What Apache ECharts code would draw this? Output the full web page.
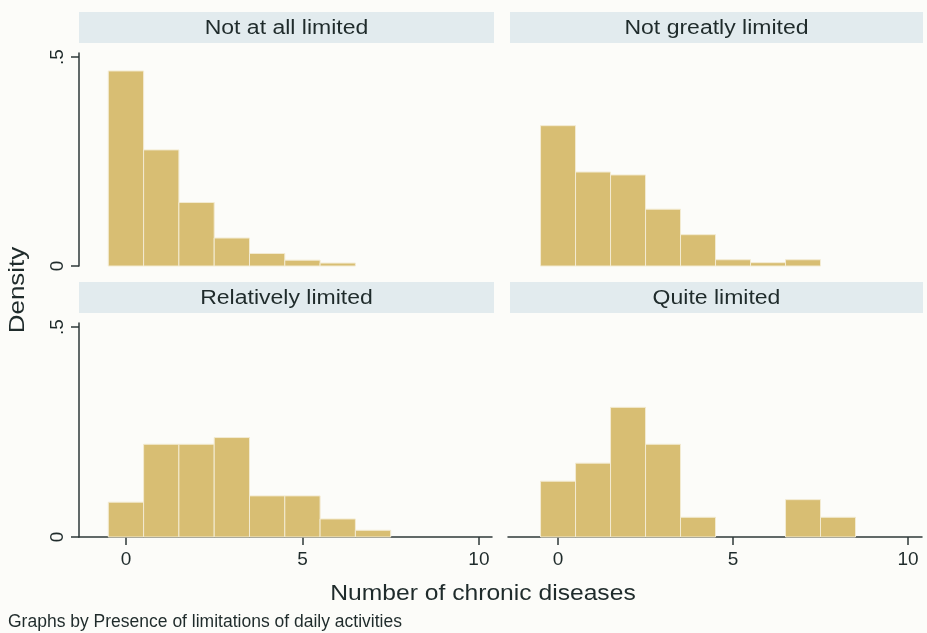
<!DOCTYPE html>
<html>
<head>
<meta charset="utf-8">
<script src="https://cdn.jsdelivr.net/npm/echarts@6/dist/echarts.min.js"></script>
<style>
  html, body { margin: 0; padding: 0; background: #fcfcf9; }
  #chart { width: 927px; height: 633px; }
</style>
</head>
<body>
<div id="chart"></div>
<script>
// Histogram of chronic disease counts, one panel per limitation group
const panelTitles = ['Not at all limited', 'Not greatly limited', 'Relatively limited', 'Quite limited'];
const xTickValues = [0, 5, 10];
const yTickValues = [0, 0.5];

// density per number of chronic diseases (bins of width 1 centred on 0, 1, 2, ...)
const densNotAtAll   = [0.467, 0.278, 0.152, 0.067, 0.030, 0.014, 0.007];
const densNotGreatly = [0.336, 0.225, 0.218, 0.136, 0.075, 0.015, 0.008, 0.015];
const densRelatively = [0.083, 0.221, 0.221, 0.237, 0.098, 0.098, 0.043, 0.016];
const densQuite      = [0.133, 0.176, 0.309, 0.221, 0.047, 0, 0, 0.089, 0.047];

const panelData = [densNotAtAll, densNotGreatly, densRelatively, densQuite];

const barColor = '#d8be73';
const axisColor = '#2e3838';
const textColor = '#1f2b2b';
const stripColor = '#e2ebee';
const fontFamily = '"Liberation Sans", Arial, sans-serif';

const grids = [
  { left: 79,  width: 413, top: 53,  height: 213 },
  { left: 508, width: 414, top: 53,  height: 213 },
  { left: 79,  width: 413, top: 323, height: 214 },
  { left: 508, width: 414, top: 323, height: 214 }
];
const xRanges = [[-1.33, 10.37], [-1.43, 10.4], [-1.33, 10.37], [-1.43, 10.4]];

function renderBin(params, api) {
  const x = api.value(0);
  const y = api.value(1);
  if (!y) return null;
  const topLeft = api.coord([x - 0.5, y]);
  const bottomRight = api.coord([x + 0.5, 0]);
  return {
    type: 'rect',
    shape: {
      x: topLeft[0],
      y: topLeft[1],
      width: bottomRight[0] - topLeft[0],
      height: bottomRight[1] - topLeft[1]
    },
    style: { fill: barColor, stroke: '#f3ebd2', lineWidth: 1 }
  };
}

const xAxes = grids.map((g, i) => {
  const showAxis = i >= 2;
  return {
    type: 'value',
    gridIndex: i,
    min: xRanges[i][0],
    max: xRanges[i][1],
    show: showAxis,
    splitLine: { show: false },
    axisLine: { show: showAxis, onZero: false, lineStyle: { color: axisColor, width: 1.5 } },
    axisTick: { show: showAxis, customValues: xTickValues, length: 8, lineStyle: { color: axisColor, width: 1.5 } },
    axisLabel: {
      show: showAxis,
      customValues: xTickValues,
      margin: 13,
      fontSize: 19,
      color: textColor,
      fontFamily: fontFamily
    }
  };
});

const yAxes = grids.map((g, i) => {
  const showAxis = i % 2 === 0;
  return {
    type: 'value',
    gridIndex: i,
    min: 0,
    max: 0.51,
    show: showAxis,
    splitLine: { show: false },
    axisLine: { show: showAxis, onZero: false, lineStyle: { color: axisColor, width: 1.5 } },
    axisTick: { show: showAxis, customValues: yTickValues, length: 8, lineStyle: { color: axisColor, width: 1.5 } },
    axisLabel: {
      show: showAxis,
      customValues: yTickValues,
      rotate: 90,
      margin: 12,
      fontSize: 19,
      color: textColor,
      fontFamily: fontFamily,
      formatter: v => (v === 0 ? '0' : String(v).replace(/^0/, ''))
    }
  };
});

const series = panelData.map((dens, i) => ({
  type: 'custom',
  xAxisIndex: i,
  yAxisIndex: i,
  renderItem: renderBin,
  encode: { x: 0, y: 1 },
  data: dens.map((d, k) => [k, d])
}));

// panel header strips with their titles
const strips = [
  { x: 79,  y: 12,  w: 415 },
  { x: 510, y: 12,  w: 413 },
  { x: 79,  y: 282, w: 415 },
  { x: 510, y: 282, w: 413 }
];
const graphics = [];
strips.forEach((s, i) => {
  graphics.push({
    type: 'rect',
    shape: { x: s.x, y: s.y, width: s.w, height: 31 },
    style: { fill: stripColor },
    silent: true
  });
  graphics.push({
    type: 'text',
    x: s.x + s.w / 2,
    y: s.y + 16,
    scaleX: 1.15,
    style: {
      text: panelTitles[i],
      fill: textColor,
      font: '20px ' + fontFamily,
      align: 'center',
      verticalAlign: 'middle'
    },
    silent: true
  });
});
graphics.push({
  type: 'text',
  x: 18,
  y: 290,
  rotation: Math.PI / 2,
  scaleX: 1.18,
  style: {
    text: 'Density',
    fill: textColor,
    font: '22px ' + fontFamily,
    align: 'center',
    verticalAlign: 'middle'
  }
});
graphics.push({
  type: 'text',
  x: 483,
  y: 594,
  scaleX: 1.12,
  style: {
    text: 'Number of chronic diseases',
    fill: textColor,
    font: '22px ' + fontFamily,
    align: 'center',
    verticalAlign: 'middle'
  }
});
graphics.push({
  type: 'text',
  x: 8,
  y: 622,
  style: {
    text: 'Graphs by Presence of limitations of daily activities',
    fill: textColor,
    font: '17.5px ' + fontFamily,
    align: 'left',
    verticalAlign: 'middle'
  }
});

const chart = echarts.init(document.getElementById('chart'), null, { renderer: 'canvas' });
chart.setOption({
  backgroundColor: '#fcfcf9',
  animation: false,
  grid: grids,
  xAxis: xAxes,
  yAxis: yAxes,
  series: series,
  graphic: graphics
});
</script>
</body>
</html>
